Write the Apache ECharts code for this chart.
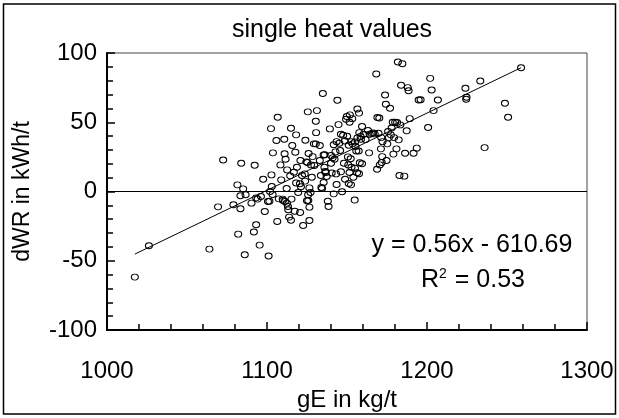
<!DOCTYPE html>
<html><head><meta charset="utf-8">
<script src="https://cdn.jsdelivr.net/npm/echarts@6/dist/echarts.min.js"></script>
<style>html,body{margin:0;padding:0;background:#fff}#c{width:619px;height:418px}</style>
</head><body><div id="c"></div>
<script>
const gE = [1017.4,1026.2,1064,1069.4,1072.6,1079,1081.5,1082,1083.4,1083.9,1083.4,1085.1,1086.1,1086.6,1090.3,1091.8,1092.3,1093.2,1093.2,1094.2,
1095.4,1096.2,1097.6,1098.6,1100.6,1101.5,1101,1102.5,1102.8,1103,1103.7,1103.5,1105.9,1106.4,1106.7,1107.4,1108.4,1108.9,1109.8,1110.8,
1111,1111.6,1111.2,1112.4,1112.3,1112.6,1113.1,1113.8,1114.5,1115,1115.3,1115,1115.8,1116.8,1117.3,1117.7,1118.2,1118.2,1118.7,1119.5,
1120.7,1120.9,1121.2,1121.9,1122.6,1123.6,1123.8,1124,1124.6,1125,1125.2,1125.5,1125.7,1126,1126.5,1126.5,1126.5,1127.2,1127.5,1128,
1128.5,1129.3,1130.5,1130.5,1130.7,1131.2,1133,1133,1133.7,1134,1134.4,1134.9,1135.4,1135.4,1135.9,1136.4,1138,1138.5,1139.3,1140,
1141,1141.7,1141.7,1142.2,1142.8,1143.2,1143.5,1144,1144.7,1145.2,1145.7,1146.2,1146.2,1146.9,1147.6,1148.1,1148.6,1148.8,1149.4,1149.9,
1150.1,1150.6,1150.8,1151.1,1151.1,1151.6,1151.6,1151.8,1152.3,1152.6,1152.8,1153.3,1153.5,1154,1154.8,1155,1155,1155.3,1155.8,1156.5,
1156.3,1156.5,1157.3,1157.7,1158,1158.7,1159.4,1159.4,1160.4,1161.6,1163.1,1163.8,1164.2,1165.4,1166.4,1167.3,1168.3,1168.8,1169,1169.7,
1170.2,1170.5,1171.2,1171.4,1171.7,1172,1172.2,1173.8,1174.3,1174.7,1175.2,1175.7,1176.2,1176.9,1177.4,1177.9,1178.6,1179.4,1180.1,1180.9,
1181.3,1181.8,1182.3,1182.8,1183.3,1183.8,1184.6,1185.8,1186.3,1187.3,1188,1188.5,1189.2,1191.6,1193.6,1194.8,1196,1200.7,1202,1202.9,
1204.1,1206.8,1224,1224.5,1224.7,1233.3,1236,1248.7,1250.7,1258.8,
1157.5,1179,1140,1136,1143.5,1158.5,1129.6,1113.3,1125.8,1101.9,1137.3,1120.6,1140.4,1136.7,1152.5,1157.5,1110];
const dWR = [-61.8,-39.2,-41.6,-11.1,22.8,-9.6,4.8,-30.8,-12.5,20.4,-3.1,1.9,-45.7,-2.4,-8.4,-29.3,19,-24,-4.6,-5.5,
-38.7,-3.6,8.9,-14.4,-7.2,-7,-46.6,45.4,12,3.6,27.9,-2.2,36.8,-21.6,53.6,-5.3,19.2,8.4,-5.5,37.7,
27.2,23.3,-7.2,-8.4,2.2,15.6,-10.8,-18.5,11.3,45.7,-5.5,-20.7,33.2,13.9,-14.2,28.4,40.9,6.2,17.5,-0.7,
-15.1,22.4,3.4,11.5,-24.5,12.7,7.5,37,21.4,-6.7,20.9,57.5,-2.4,27.4,2.6,-11.3,-20.9,-0.7,19.2,10.3,
25.2,34.4,34.4,50.7,42.5,58.4,33.2,22.4,11.5,2.9,2.2,70.7,26.4,6.5,17.5,14.4,-7,-10.8,45.2,20.4,
24.3,33.7,-1.7,23.3,28.6,12.7,5,65.9,48.3,34.9,29.6,14.2,41.3,-0.2,40.6,20.4,36.5,8.9,52.2,54.1,
39.9,25,19.2,5.8,33.4,13.7,50,55.3,23.6,36,17.5,52.6,34.4,10.3,-6.2,16.8,35.8,32.5,29.3,59.6,
13.5,38.7,29.3,42.5,20.7,37.7,46.9,20,41.3,37.5,44,27.9,41.3,41.8,42.3,41.6,84.9,16.1,53.4,42.1,
53.1,19.2,30.8,38.9,20.9,25.2,36,69.7,63,22.4,34.4,43.3,38.9,60.1,40.9,45.9,50,38.9,50,30.8,
49.8,93.5,37.3,11.5,48.1,76.7,92.3,11.1,27.6,43.8,75,72.8,52.6,27.6,31.3,66.1,66.3,46.2,81.7,73.3,
58.4,66.1,74.5,66.6,68,79.8,31.7,63.7,53.6,89.4,
56.6,27,26,26.5,36,39.7,18.8,-13.2,-6.5,0,10.8,5.6,13.3,13.7,4.8,12.8,-6.5];
const trendX = [1017.4, 1258.8];
const trendY = [-45.2, 89.4];
const xTickValues = [1000, 1100, 1200, 1300];
const yTickValues = [-100, -50, 0, 50, 100];
const titleText = 'single heat values';
const eqText = 'y = 0.56x - 610.69';
const r2Text = 'R{s|2} = 0.53';

const FONT = 'Liberation Sans, Arial, sans-serif';
const chart = echarts.init(document.getElementById('c'), null, {renderer: 'canvas'});
const pts = gE.map((x, i) => [x, dWR[i]]);
const trend = trendX.map((x, i) => [x, trendY[i]]);

chart.setOption({
  animation: false,
  backgroundColor: '#fff',
  grid: {left: 107, right: 32, top: 53, bottom: 88, show: true, borderColor: '#444', borderWidth: 1},
  xAxis: {
    type: 'value', min: xTickValues[0], max: xTickValues[xTickValues.length - 1], interval: 100,
    axisLine: {show: true, onZero: false, lineStyle: {color: '#000', width: 2}},
    axisTick: {show: true, inside: true, length: 8, lineStyle: {color: '#000', width: 1.5}},
    minorTick: {show: true, splitNumber: 5, length: 6, lineStyle: {color: '#000', width: 1.5}},
    splitLine: {show: false},
    axisLabel: {fontSize: 24, color: '#000', fontFamily: FONT, margin: 29, showMaxLabel: true, showMinLabel: true,
      formatter: v => String(v)},
    name: 'gE in kg/t', nameLocation: 'middle', nameGap: 51,
    nameTextStyle: {fontSize: 24, color: '#000', fontFamily: FONT}
  },
  yAxis: {
    type: 'value', min: yTickValues[0], max: yTickValues[yTickValues.length - 1], interval: 50,
    axisLine: {show: true, onZero: false, lineStyle: {color: '#000', width: 2}},
    axisTick: {show: true, inside: true, length: 8, lineStyle: {color: '#000', width: 1.5}},
    minorTick: {show: true, splitNumber: 5, length: 6, lineStyle: {color: '#000', width: 1.5}},
    splitLine: {show: false},
    axisLabel: {fontSize: 24, color: '#000', fontFamily: FONT, margin: 10, formatter: v => String(v)},
    name: 'dWR in kWh/t', nameLocation: 'middle', nameGap: 73,
    nameTextStyle: {fontSize: 23, color: '#000', fontFamily: FONT}
  },
  graphic: [
    {type: 'rect', shape: {x: 3.5, y: 4, width: 612, height: 410}, style: {fill: 'none', stroke: '#000', lineWidth: 1.5}, z: 100},
    {type: 'text', x: 332, y: 30, style: {text: titleText, fontSize: 25, fontFamily: FONT, fill: '#000', align: 'center', verticalAlign: 'middle'}},
    {type: 'text', x: 472, y: 245, style: {text: eqText, fontSize: 25, fontFamily: FONT, fill: '#000', align: 'center', verticalAlign: 'middle'}},
    {type: 'text', x: 473, y: 280, style: {text: r2Text, fontSize: 25, fontFamily: FONT, fill: '#000', align: 'center', verticalAlign: 'middle',
      rich: {s: {fontSize: 14, fontFamily: FONT, fill: '#000', verticalAlign: 'top', padding: [0, 1, 0, 0]}}}}
  ],
  series: [
    {
      type: 'line', data: trend, symbol: 'none', silent: true,
      lineStyle: {color: '#000', width: 1}, z: 2
    },
    {
      type: 'scatter', data: pts, symbol: 'circle', symbolSize: [7, 6],
      itemStyle: {color: 'rgba(0,0,0,0)', borderColor: '#000', borderWidth: 1, opacity: 1},
      z: 3,
      markLine: {silent: true, symbol: 'none', animation: false,
        label: {show: false}, lineStyle: {color: '#000', width: 1, type: 'solid'},
        data: [{yAxis: 0}]}
    }
  ]
});
</script></body></html>
